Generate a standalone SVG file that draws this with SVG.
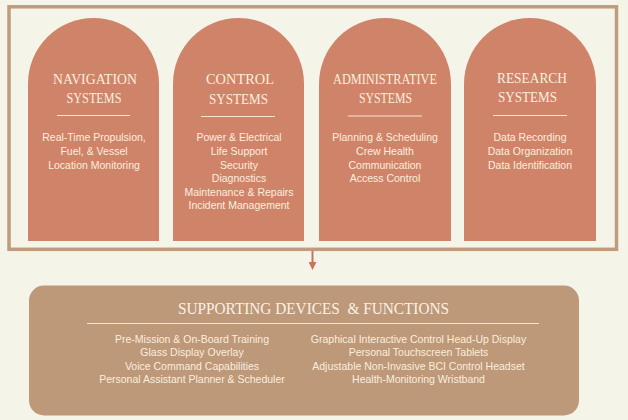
<svg xmlns="http://www.w3.org/2000/svg" width="628" height="420" viewBox="0 0 628 420">
<defs>
<style>
.bg{fill:#f5f4e9}
.frame{fill:none;stroke:#c09b7d;stroke-width:3.5}
.arch{fill:#cf846a}
.title{font-family:"Liberation Serif","DejaVu Serif",serif;font-size:14.5px;fill:#fbeede;text-anchor:middle}
.body{font-family:"Liberation Sans",Arial,sans-serif;font-size:10.5px;fill:#fbeede;text-anchor:middle}
.rule{stroke:#f6e4d2;stroke-width:1}
.box{fill:#bd9879}
.btitle{font-family:"Liberation Serif","DejaVu Serif",serif;font-size:16.5px;fill:#fbf1e4;text-anchor:middle}
.conn{stroke:#c9745a;stroke-width:2;fill:none}
</style>
<marker id="ah" viewBox="0 0 8 8" refX="4" refY="4" markerWidth="4" markerHeight="4" orient="auto" markerUnits="strokeWidth">
<path d="M0,0 L8,4 L0,8 Z" fill="#c9745a"/>
</marker>
</defs>
<rect class="bg" x="0" y="0" width="628" height="420"/>
<rect id="frame" class="frame" x="9" y="6.8" width="607.5" height="242.5"/>

<g id="navigation">
<path class="arch" d="M28,241 V83.5 A65.5,65.5 0 0 1 159,83.5 V241 Z"/>
<text class="title" x="95" y="84" textLength="84" lengthAdjust="spacingAndGlyphs">NAVIGATION</text>
<text class="title" x="94" y="103" textLength="55" lengthAdjust="spacingAndGlyphs">SYSTEMS</text>
<line class="rule" x1="57" y1="115.5" x2="130" y2="115.5"/>
<text class="body" x="94" y="141">Real-Time Propulsion,</text>
<text class="body" x="94" y="155">Fuel, &amp; Vessel</text>
<text class="body" x="94" y="169">Location Monitoring</text>
</g>

<g id="control">
<path class="arch" d="M173,241 V83.5 A65.5,65.5 0 0 1 304,83.5 V241 Z"/>
<text class="title" x="240" y="84" textLength="68" lengthAdjust="spacingAndGlyphs">CONTROL</text>
<text class="title" x="238.5" y="104" textLength="59" lengthAdjust="spacingAndGlyphs">SYSTEMS</text>
<line class="rule" x1="201" y1="116.5" x2="275" y2="116.5"/>
<text class="body" x="239" y="141">Power &amp; Electrical</text>
<text class="body" x="239" y="155">Life Support</text>
<text class="body" x="239" y="169">Security</text>
<text class="body" x="239" y="182">Diagnostics</text>
<text class="body" x="239" y="196">Maintenance &amp; Repairs</text>
<text class="body" x="239" y="209">Incident Management</text>
</g>

<g id="administrative">
<path class="arch" d="M319,241 V84 A66,66 0 0 1 451,84 V241 Z"/>
<text class="title" x="385" y="84" textLength="104" lengthAdjust="spacingAndGlyphs">ADMINISTRATIVE</text>
<text class="title" x="385.5" y="103" textLength="53" lengthAdjust="spacingAndGlyphs">SYSTEMS</text>
<line class="rule" x1="348" y1="116" x2="422" y2="116"/>
<text class="body" x="385" y="141">Planning &amp; Scheduling</text>
<text class="body" x="385" y="155">Crew Health</text>
<text class="body" x="385" y="169">Communication</text>
<text class="body" x="385" y="182">Access Control</text>
</g>

<g id="research">
<path class="arch" d="M464,241 V84 A66,66 0 0 1 596,84 V241 Z"/>
<text class="title" x="532" y="83" textLength="70" lengthAdjust="spacingAndGlyphs">RESEARCH</text>
<text class="title" x="527.5" y="102" textLength="59" lengthAdjust="spacingAndGlyphs">SYSTEMS</text>
<line class="rule" x1="493" y1="115.5" x2="567" y2="115.5"/>
<text class="body" x="530" y="141">Data Recording</text>
<text class="body" x="530" y="155">Data Organization</text>
<text class="body" x="530" y="169">Data Identification</text>
</g>

<g id="connectors">
<line class="conn" x1="312.5" y1="251" x2="312.5" y2="266" marker-end="url(#ah)"/>
</g>

<g id="supporting">
<rect class="box" x="29" y="285.5" width="550" height="130" rx="15"/>
<text class="btitle" x="313.5" y="314" textLength="271" lengthAdjust="spacingAndGlyphs" xml:space="preserve">SUPPORTING DEVICES  &amp; FUNCTIONS</text>
<line class="rule" x1="87" y1="323.5" x2="539" y2="323.5"/>
<text class="body" x="192" y="343">Pre-Mission &amp; On-Board Training</text>
<text class="body" x="192" y="356">Glass Display Overlay</text>
<text class="body" x="192" y="370">Voice Command Capabilities</text>
<text class="body" x="192" y="383">Personal Assistant Planner &amp; Scheduler</text>
<text class="body" x="418.5" y="343">Graphical Interactive Control Head-Up Display</text>
<text class="body" x="418.5" y="356">Personal Touchscreen Tablets</text>
<text class="body" x="418.5" y="370">Adjustable Non-Invasive BCI Control Headset</text>
<text class="body" x="418.5" y="383">Health-Monitoring Wristband</text>
</g>
</svg>
